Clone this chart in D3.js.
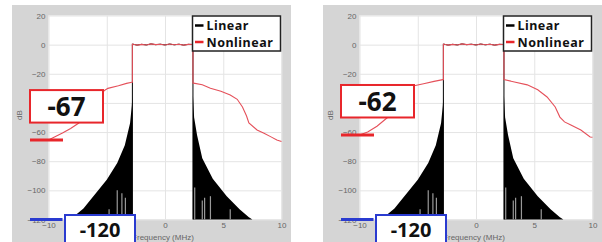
<!DOCTYPE html>
<html>
<head>
<meta charset="utf-8">
<script src="https://cdn.jsdelivr.net/npm/d3@7"></script>
<style>
  body { margin: 0; background: #fff; }
  svg { display: block; }
</style>
</head>
<body>
<div id="chart"></div>
<script>
// ---- data ----
var freqTicks = [-10, -5, 0, 5, 10];
var dbTicks = [20, 0, -20, -40, -60, -80, -100, -120];
var legendKeys = ["Linear", "Nonlinear"];
var edgeLabels = ["-67", "-62"];
var floorLabel = "-120";

// passband ripple (MHz, dB)
var passband = [[-2.8, 0.4], [-2.4, -0.3], [-2.0, 0.2], [-1.6, -0.2], [-1.2, 0.5], [-0.8, 0.0], [-0.4, 0.3],
    [0, -0.2], [0.4, 0.4], [0.8, -0.1], [1.2, 0.3], [1.6, -0.3], [2.0, 0.2], [2.4, 0.1]];

// upper envelope of the linear spectrum skirts
var linearLow = [[-8.2, -120], [-7.7, -117], [-7.0, -112.5], [-6.2, -104.5], [-5.0, -92.8], [-4.1, -81.2],
    [-3.45, -69], [-3.0, -54], [-2.85, -42], [-2.8, -35]];
var linearHigh = [[2.4, -35], [2.5, -50], [2.75, -62], [3.2, -78], [4.1, -92], [5.3, -104], [6.4, -113],
    [7.2, -118.5], [7.5, -120]];
// nulls seen as light stripes in the skirts (MHz, top dB)
var linearNulls = [[-4.8, -113], [-4.1, -100], [-3.7, -102], [-3.4, -105],
    [2.55, -98], [3.2, -107], [3.4, -105], [3.9, -104], [5.6, -113]];

// nonlinear spectrum, panel A (left) and panel B (right)
var nonlinearLowA = [[-10, -65.5], [-9.4, -63], [-8.8, -60.6], [-8.1, -57.5], [-7.4, -53.8], [-6.8, -45],
    [-6.0, -37], [-5.2, -31.5], [-4.9, -30], [-4.0, -28.2], [-3.3, -26.6], [-2.85, -25.8]];
var nonlinearHighA = [[2.45, -26.4], [3.2, -27.5], [3.9, -29.9], [4.8, -32], [5.6, -34.6], [6.2, -37.5],
    [6.65, -42.8], [7.0, -49], [7.2, -53.8], [7.9, -58.6], [8.5, -60.8], [9.1, -63.3], [9.6, -65.5], [10, -66.5]];
var nonlinearLowB = [[-10, -62], [-9.3, -60], [-8.5, -56], [-7.6, -50], [-6.9, -43], [-6.2, -35],
    [-5.4, -28.3], [-4.5, -26.8], [-3.6, -25.2], [-2.85, -24]];
var nonlinearHighB = [[2.4, -24], [3.3, -25.6], [4.4, -27.6], [5.3, -31], [6.1, -35.9], [6.8, -42.8],
    [7.2, -49.7], [7.6, -53], [8.1, -55], [9.0, -58.6], [9.8, -63.4], [10, -63.6]];

var panelsData = [
    { low: nonlinearLowA, high: nonlinearHighA, label: edgeLabels[0] },
    { low: nonlinearLowB, high: nonlinearHighB, label: edgeLabels[1] }
];

// ---- layout ----
var W = 602, H = 242;
var plotW = 233, plotTop = 15.5, plotBottom = 219.5;
var plotLefts = [48.5, 359.5];

var red = "#e8262b", blue = "#2a3bd0";

var svg = d3.select("#chart").append("svg")
    .attr("width", W).attr("height", H);

plotLefts.forEach(function (x0, i) {
    var d = panelsData[i];
    var g = svg.append("g");

    var x = d3.scaleLinear().domain([-10, 10]).range([x0, x0 + plotW]);
    var y = d3.scaleLinear().domain([-120, 20]).range([plotBottom, plotTop]);

    // frame background
    g.append("rect")
        .attr("x", x0 - 36.5).attr("y", 5)
        .attr("width", plotW + 46).attr("height", H - 5)
        .attr("fill", "#d5d5d5");
    g.append("rect")
        .attr("x", x0).attr("y", plotTop)
        .attr("width", plotW).attr("height", plotBottom - plotTop)
        .attr("fill", "#fff");

    // axes with grid
    var xAxis = g.append("g")
        .attr("transform", "translate(0," + plotBottom + ")")
        .call(d3.axisBottom(x).tickValues(freqTicks).tickSize(-(plotBottom - plotTop)).tickPadding(3));
    var yAxis = g.append("g")
        .attr("transform", "translate(" + x0 + ",0)")
        .call(d3.axisLeft(y).tickValues(dbTicks).tickSize(-plotW).tickPadding(3));
    [xAxis, yAxis].forEach(function (a) {
        a.select(".domain").remove();
        a.selectAll(".tick line").attr("stroke", "#e4e4e4");
        a.selectAll(".tick text")
            .attr("fill", "#666")
            .style("font", "8px 'Liberation Sans', Arial, sans-serif");
    });

    g.append("text")
        .attr("transform", "translate(" + (x0 - 27) + "," + 115 + ")rotate(-90)")
        .attr("text-anchor", "middle")
        .attr("fill", "#666")
        .style("font", "8px 'Liberation Sans', Arial, sans-serif")
        .text("dB");
    g.append("text")
        .attr("x", x(0) - 2).attr("y", 240)
        .attr("text-anchor", "middle")
        .attr("fill", "#666")
        .style("font", "8px 'Liberation Sans', Arial, sans-serif")
        .text("Frequency (MHz)");

    // linear skirts (dense oscillation drawn as filled envelope)
    var area = d3.area()
        .x(function (p) { return x(p[0]); })
        .y0(y(-120))
        .y1(function (p) { return y(p[1]); });
    [linearLow, linearHigh].forEach(function (s) {
        g.append("path").datum(s)
            .attr("d", area)
            .attr("fill", "#000");
    });
    g.append("g").selectAll("line")
        .data(linearNulls)
        .enter().append("line")
        .attr("x1", function (p) { return x(p[0]); })
        .attr("x2", function (p) { return x(p[0]); })
        .attr("y1", function (p) { return y(p[1]); })
        .attr("y2", y(-120))
        .attr("stroke", "#999")
        .attr("stroke-width", 1.2);

    var line = d3.line()
        .x(function (p) { return x(p[0]); })
        .y(function (p) { return y(p[1]); });

    var first = passband[0][0], last = passband[passband.length - 1][0];
    var linearBand = [[first, -120]].concat(passband, [[last, -120]]);
    g.append("path").datum(linearBand)
        .attr("d", line)
        .attr("fill", "none")
        .attr("stroke", "#000")
        .attr("stroke-width", 1);

    var nonlinear = d.low.concat([[first, d.low[d.low.length - 1][1]]], passband,
        [[last, d.high[0][1]]], d.high);
    g.append("path").datum(nonlinear)
        .attr("d", line)
        .attr("fill", "none")
        .attr("stroke", "#e5505a")
        .attr("stroke-width", 1.1);

    // legend
    var lx = x0 + plotW - 89, ly = 16;
    var legend = g.append("g").attr("transform", "translate(" + lx + "," + ly + ")");
    legend.append("rect")
        .attr("width", 88).attr("height", 35)
        .attr("fill", "#fff")
        .attr("stroke", "#222")
        .attr("stroke-width", 1.5);
    var item = legend.selectAll("g")
        .data(legendKeys)
        .enter().append("g")
        .attr("transform", function (k, j) { return "translate(0," + (9.5 + j * 16.5) + ")"; });
    item.append("line")
        .attr("x1", 2.5).attr("x2", 11)
        .attr("stroke", function (k, j) { return j ? red : "#000"; })
        .attr("stroke-width", 2.5);
    item.append("text")
        .attr("x", 14).attr("dy", "0.36em")
        .attr("fill", "#111")
        .style("font", "bold 12.5px 'Noto Sans', sans-serif")
        .style("letter-spacing", "0.5px")
        .text(function (k) { return k; });

    // annotations: level at the band edge and the noise floor
    var edgeY = y(d.low[0][1]);
    g.append("line")
        .attr("x1", x0 - 18.5).attr("x2", x0 + 14.5)
        .attr("y1", edgeY).attr("y2", edgeY)
        .attr("stroke", red).attr("stroke-width", 3);
    g.append("rect")
        .attr("x", x0 - 18.5).attr("y", edgeY - 50)
        .attr("width", 73).attr("height", 32.5)
        .attr("fill", "#fff")
        .attr("stroke", red).attr("stroke-width", 2);
    g.append("text")
        .attr("x", x0 + 18).attr("y", edgeY - 33.5)
        .attr("dy", "0.36em")
        .attr("text-anchor", "middle")
        .attr("fill", "#111")
        .style("font", "bold 26px 'Noto Sans', sans-serif")
        .text(d.label);

    var floorY = y(-120);
    g.append("line")
        .attr("x1", x0 - 18.5).attr("x2", x0 + 14)
        .attr("y1", floorY).attr("y2", floorY)
        .attr("stroke", blue).attr("stroke-width", 3);
    g.append("rect")
        .attr("x", x0 + 16.5).attr("y", 215)
        .attr("width", 70).attr("height", 32)
        .attr("fill", "#fff")
        .attr("stroke", blue).attr("stroke-width", 2);
    g.append("text")
        .attr("x", x0 + 51.5).attr("y", 230)
        .attr("dy", "0.36em")
        .attr("text-anchor", "middle")
        .attr("fill", "#111")
        .style("font", "bold 20px 'Noto Sans', sans-serif")
        .text(floorLabel);
});
</script>
</body>
</html>
